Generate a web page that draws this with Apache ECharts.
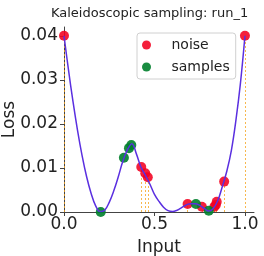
<!DOCTYPE html>
<html><head><meta charset="utf-8">
<script src="https://cdn.jsdelivr.net/npm/echarts@6/dist/echarts.min.js"></script>
<style>html,body{margin:0;padding:0;background:#fff}#c{width:264px;height:256px}</style>
</head><body><div id="c"></div>
<script>
const curveX = [0.000,0.025,0.050,0.075,0.100,0.125,0.150,0.175,0.200,0.225,0.250,0.275,0.300,0.325,0.350,0.375,0.400,0.425,0.450,0.475,0.500,0.525,0.550,0.575,0.600,0.625,0.650,0.675,0.700,0.725,0.750,0.775,0.800,0.825,0.850,0.875,0.900,0.925,0.950,0.975,1.000];
const curveY = [0.0400,0.0322,0.0250,0.0185,0.0128,0.0080,0.0042,0.0014,0.0001,0.0004,0.0022,0.0048,0.0080,0.0115,0.0141,0.0155,0.0132,0.0102,0.0083,0.0063,0.0040,0.0024,0.0011,0.0003,0.0001,0.0004,0.0010,0.0016,0.0019,0.0019,0.0015,0.0008,0.0002,0.0008,0.0026,0.0058,0.0093,0.0140,0.0208,0.0292,0.0400];
const noiseX = [0.000,0.427,0.449,0.463,0.683,0.762,0.831,0.839,0.844,0.885,1.000];
const noiseY = [0.0400,0.0102,0.0088,0.0079,0.0018,0.0012,0.0012,0.0016,0.0023,0.0069,0.0400];
const sampleX = [0.203,0.331,0.359,0.372,0.729,0.800];
const sampleY = [0.0000,0.0123,0.0145,0.0152,0.0018,0.0003];
const xTicks = [0, 0.5, 1.0];
const yTicks = [0, 0.01, 0.02, 0.03, 0.04];

const FONT = 'DejaVu Sans';
const zip = (a, b) => a.map((v, i) => [v, b[i]]);
const chart = echarts.init(document.getElementById('c'), null, {renderer: 'canvas'});
chart.setOption({
  animation: false,
  backgroundColor: '#fff',
  title: {
    text: 'Kaleidoscopic sampling: run_1', left: 46, top: 2,
    textStyle: {fontFamily: FONT, fontSize: 13, fontWeight: 'normal', color: '#222'}
  },
  legend: {
    orient: 'vertical', left: 137, top: 33, z: 10,
    padding: [4, 6, 4, 5], itemWidth: 30, itemHeight: 9, itemGap: 6,
    backgroundColor: 'rgba(255,255,255,0.8)', borderColor: '#d0d0d0', borderWidth: 1, borderRadius: 3,
    textStyle: {fontFamily: FONT, fontSize: 14, color: '#222', lineHeight: 16, padding: [0, 0, 0, 5]},
    data: [{name: 'noise', icon: 'circle'}, {name: 'samples', icon: 'circle'}]
  },
  grid: {left: 64, right: 10, top: 27, bottom: 44, outerBoundsMode: 'none'},
  xAxis: {
    type: 'value', min: 0, max: 1.05,
    name: 'Input', nameLocation: 'middle', nameGap: 27, nameMoveOverlap: false,
    nameTextStyle: {fontFamily: FONT, fontSize: 17, color: '#222'},
    axisLine: {show: true, lineStyle: {color: '#444', width: 1}},
    axisTick: {show: true, length: 4, lineStyle: {color: '#444'}, customValues: xTicks},
    axisLabel: {fontFamily: FONT, fontSize: 17, color: '#222', margin: 4, customValues: xTicks,
      formatter: v => v.toFixed(1)},
    splitLine: {show: false}
  },
  yAxis: {
    type: 'value', min: 0, max: 0.042,
    name: 'Loss', nameLocation: 'middle', nameGap: 46, nameRotate: 90, nameMoveOverlap: false,
    nameTextStyle: {fontFamily: FONT, fontSize: 17, color: '#222'},
    axisLine: {show: true, lineStyle: {color: '#444', width: 1}},
    axisTick: {show: true, length: 4, lineStyle: {color: '#444'}, customValues: yTicks},
    axisLabel: {fontFamily: FONT, fontSize: 17, color: '#222', margin: 6, customValues: yTicks,
      formatter: v => v.toFixed(2)},
    splitLine: {show: false}
  },
  series: [
    {
      type: 'line', name: 'curve', data: zip(curveX, curveY), smooth: 0.4,
      showSymbol: false, symbol: 'none', z: 5,
      lineStyle: {color: '#5a2fe0', width: 1.5}
    },
    {
      type: 'scatter', name: 'noise', data: zip(noiseX, noiseY), symbolSize: 10, z: 4,
      itemStyle: {color: '#f20020', opacity: 0.88},
      markLine: {
        silent: true, symbol: 'none', label: {show: false}, animation: false, z: 3,
        lineStyle: {color: '#f5a623', type: [2, 2], width: 1, opacity: 0.8},
        emphasis: {disabled: true},
        data: noiseX.map((x, i) => [{coord: [x, 0]}, {coord: [x, noiseY[i]]}])
      }
    },
    {
      type: 'scatter', name: 'samples', data: zip(sampleX, sampleY), symbolSize: 10, z: 4,
      itemStyle: {color: '#007f2c', opacity: 0.9}
    }
  ]
});
</script></body></html>
